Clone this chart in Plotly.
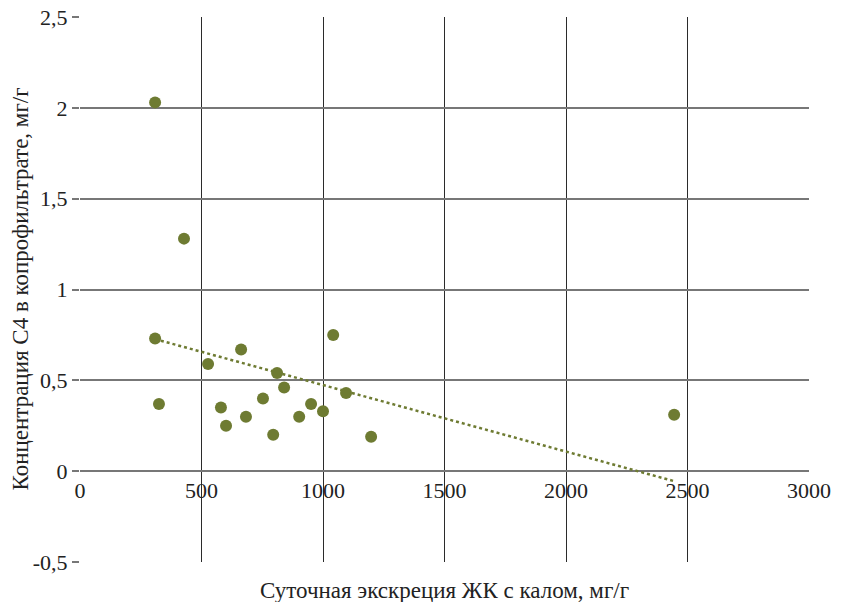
import numpy as np
import plotly.graph_objects as go

# Data
excretion = [309, 428, 309, 325, 527, 663, 580, 601, 683, 753, 811, 840, 795, 902, 951, 1000, 1042, 1095, 1198, 2445]
c4_conc = [2.03, 1.28, 0.73, 0.37, 0.59, 0.67, 0.35, 0.25, 0.30, 0.40, 0.54, 0.46, 0.20, 0.30, 0.37, 0.33, 0.75, 0.43, 0.19, 0.31]

x_tickvals = [0, 500, 1000, 1500, 2000, 2500, 3000]
x_ticktext = ["0", "500", "1000", "1500", "2000", "2500", "3000"]
y_tickvals = [-0.5, 0, 0.5, 1, 1.5, 2, 2.5]
y_ticktext = ["-0,5", "0", "0,5", "1", "1,5", "2", "2,5"]

x_title = "Суточная экскреция ЖК с калом, мг/г"
y_title = "Концентрация С4 в копрофильтрате, мг/г"

olive = "#6e7b32"
serif = "Liberation Serif, serif"
tfont = dict(family=serif, size=22, color="#222")
title_font = dict(family=serif, size=23, color="#222")

# Linear trend line (least squares)
slope, intercept = np.polyfit(excretion, c4_conc, 1)
tx = [min(excretion), max(excretion)]
ty = [slope * v + intercept for v in tx]

fig = go.Figure()
fig.add_trace(go.Scatter(x=tx, y=ty, mode="lines",
                         line=dict(color=olive, width=2.5, dash="dot"),
                         hoverinfo="skip", showlegend=False))
fig.add_trace(go.Scatter(x=excretion, y=c4_conc, mode="markers",
                         marker=dict(color=olive, size=12, line=dict(width=0)),
                         showlegend=False))

fig.update_layout(
    width=845, height=602, autosize=False,
    margin=dict(l=80, r=36, t=17, b=40, pad=0, autoexpand=False),
    paper_bgcolor="white", plot_bgcolor="white",
    font=tfont,
    xaxis=dict(range=[0, 3000], tickvals=x_tickvals, ticktext=x_ticktext,
               tickfont=tfont, automargin=False, ticklabelstandoff=4,
               showgrid=True, gridcolor="#2b2b2b", gridwidth=1.2,
               zeroline=False, showline=False, ticks="",
               anchor="free", position=1/6),
    yaxis=dict(range=[-0.5, 2.5], tickvals=y_tickvals, ticktext=y_ticktext,
               tickfont=tfont, automargin=False,
               showgrid=True, gridcolor="#777", gridwidth=1.6,
               zeroline=False, showline=False,
               ticks="outside", ticklen=7, tickcolor="#777", tickwidth=1.6,
               domain=[0, 1]),
    annotations=[
        dict(text=x_title, xref="paper", yref="paper", x=0.5, y=0,
             yshift=-28, showarrow=False, xanchor="center", yanchor="middle",
             font=title_font),
        dict(text=y_title, xref="paper", yref="paper", x=0, y=0.5,
             xshift=-60, showarrow=False, textangle=-90,
             xanchor="center", yanchor="middle",
             font=title_font),
    ],
)

fig.write_html("out.html")
